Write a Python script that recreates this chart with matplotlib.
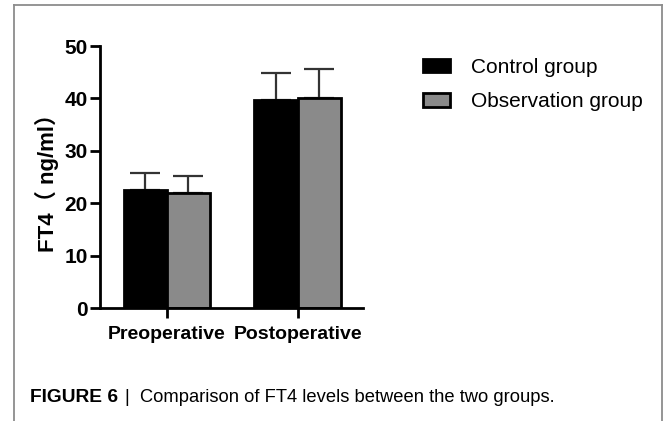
import numpy as np
import matplotlib.pyplot as plt
from matplotlib.lines import Line2D
from matplotlib.patches import Patch

categories = ['Preoperative', 'Postoperative']
control_mean = [22.5, 39.7]
control_err = [3.3, 5.2]
observation_mean = [22.0, 40.0]
observation_err = [3.1, 5.6]
series_names = ['Control group', 'Observation group']

W, H = 667, 421
fig = plt.figure(figsize=(W / 100, H / 100), dpi=100)
ax = fig.add_axes([100 / W, 1 - 308 / H, 263 / W, 262 / H])

x = np.arange(len(categories))
bw = 0.33
ax.bar(x - bw / 2, control_mean, bw, color='black', edgecolor='black', linewidth=2, zorder=2)
ax.bar(x + bw / 2, observation_mean, bw, color='#8a8a8a', edgecolor='black', linewidth=2, zorder=2)
ax.errorbar(x - bw / 2, control_mean, yerr=[[0, 0], control_err], fmt='none',
            ecolor='#333333', elinewidth=1.6, capsize=11, capthick=1.6, zorder=1)
ax.errorbar(x + bw / 2, observation_mean, yerr=[[0, 0], observation_err], fmt='none',
            ecolor='#333333', elinewidth=1.6, capsize=11, capthick=1.6, zorder=1)

ax.set_xlim(-0.51, 1.50)
ax.set_ylim(0, 50)
ax.set_yticks([0, 10, 20, 30, 40, 50])
ax.set_xticks(x)
ax.set_xticklabels(categories, fontsize=14, fontweight='bold', family='Liberation Sans')
for lab in ax.get_yticklabels():
    lab.set_fontsize(15)
    lab.set_fontweight('bold')
    lab.set_family('Liberation Sans')
ax.tick_params(width=2, length=7, pad=2)
ax.tick_params(axis='x', pad=6)
for s in ['top', 'right']:
    ax.spines[s].set_visible(False)
for s in ['left', 'bottom']:
    ax.spines[s].set_linewidth(2)
ax.set_ylabel('FT4（ ng/ml）', fontsize=16, fontweight='bold',
              family=['Liberation Sans', 'Noto Sans CJK SC'], labelpad=4)

handles = [Patch(facecolor='black', edgecolor='black', linewidth=2),
           Patch(facecolor='#8a8a8a', edgecolor='black', linewidth=2)]
fig.legend(handles, series_names, loc='upper left', bbox_to_anchor=(404 / W, 1 - 39 / H),
           frameon=False, prop={'family': 'Liberation Sans', 'size': 15},
           handlelength=1.3, handleheight=0.6, labelspacing=0.75, handletextpad=1.0)

# outer frame
fig.add_artist(Line2D([14 / W, 14 / W], [0, 1 - 5 / H], color='#8c8c8c', lw=1.3))
fig.add_artist(Line2D([14 / W, 662 / W], [1 - 5 / H, 1 - 5 / H], color='#8c8c8c', lw=1.3))
fig.add_artist(Line2D([662 / W, 662 / W], [0, 1 - 5 / H], color='#8c8c8c', lw=1.3))

fig.text(30 / W, 1 - 398 / H, 'FIGURE 6', fontsize=13.8, fontweight='bold',
         family='Liberation Sans', va='center')
fig.text(125 / W, 1 - 398 / H, '|  Comparison of FT4 levels between the two groups.',
         fontsize=13.2, family='Liberation Sans', va='center')

fig.savefig('out.png', dpi=100)
